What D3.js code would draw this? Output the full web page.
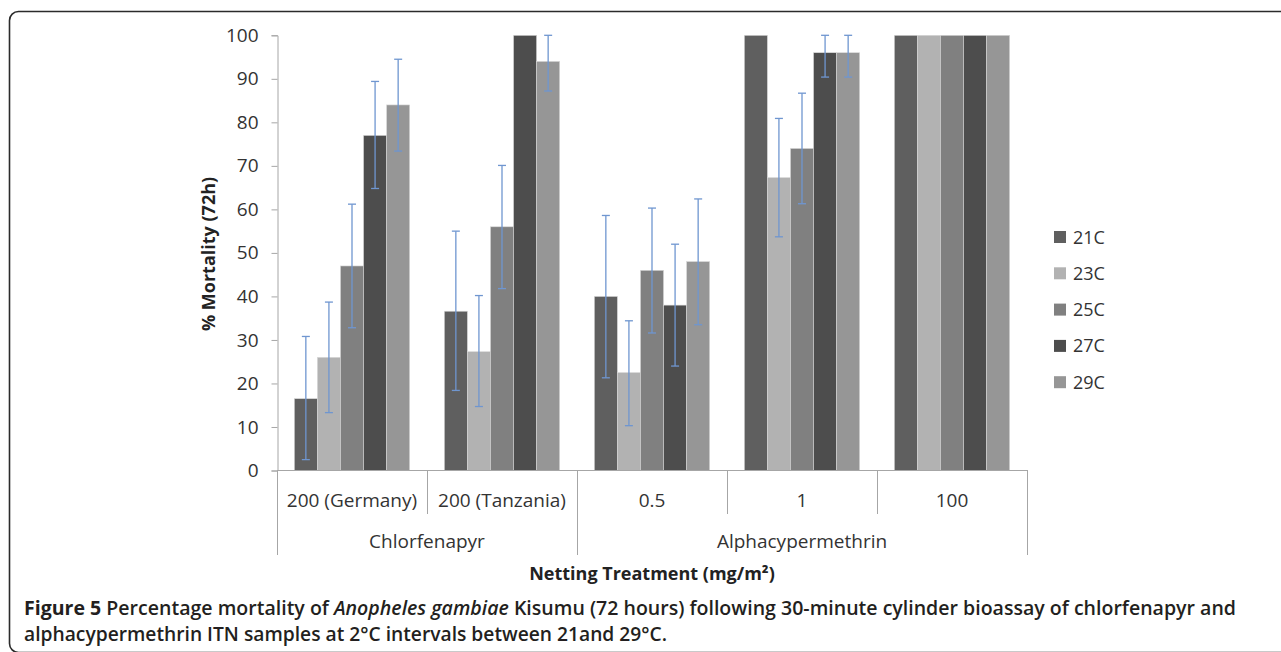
<!DOCTYPE html>
<html>
<head>
<meta charset="utf-8">
<script src="https://cdn.jsdelivr.net/npm/d3@7"></script>
<style>
  body { margin: 0; background: #fff; }
  svg { display: block; font-family: "Open Sans", sans-serif; }
</style>
</head>
<body>
<svg width="1281" height="652"></svg>
<script>
// data
var categories = ["200 (Germany)", "200 (Tanzania)", "0.5", "1", "100"];
var groupNames = ["Chlorfenapyr", "Alphacypermethrin"];
var groupSizes = [2, 3];
var series = ["21C", "23C", "25C", "27C", "29C"];
var colors = ["#5f5f5f", "#b2b2b2", "#808080", "#4d4d4d", "#969696"];
var yTicks = [0, 10, 20, 30, 40, 50, 60, 70, 80, 90, 100];

var values = [
    [16.5, 36.6, 40, 100, 100],   // 21C
    [26, 27.3, 22.5, 67.3, 100],  // 23C
    [47, 56, 46, 74, 100],        // 25C
    [77, 100, 38, 96, 100],       // 27C
    [84, 94, 48, 96, 100]         // 29C
];
var errLow = [
    [2.5, 18.4, 21.3, null, null],
    [13.3, 14.7, 10.3, 53.7, null],
    [32.8, 41.8, 31.6, 61.3, null],
    [64.8, null, 24, 90.4, null],
    [73.4, 87.2, 33.5, 90.4, null]
];
var errHigh = [
    [30.8, 55, 58.6, null, null],
    [38.7, 40.2, 34.4, 80.9, null],
    [61.2, 70.1, 60.3, 86.7, null],
    [89.4, null, 52, 100, null],
    [94.5, 100, 62.4, 100, null]
];

var svg = d3.select("svg");
var axisColor = "#a6a6a6", textColor = "#333";

// outer frame of the figure
svg.append("rect")
    .attr("x", 9.5).attr("y", 11.5)
    .attr("width", 1300).attr("height", 641)
    .attr("rx", 9).attr("ry", 9)
    .attr("fill", "none")
    .attr("stroke", "#2b2b2b")
    .attr("stroke-width", 1.6);

var x0 = d3.scaleBand().domain(categories).range([277, 1027]).paddingInner(0).paddingOuter(0);
var x1 = d3.scaleBand().domain(series).range([0, x0.bandwidth()]).paddingInner(0).paddingOuter(0.75);
var y = d3.scaleLinear().domain([0, 100]).range([470.5, 35.3]);

//y axis
var yAxis = svg.append("g")
    .attr("transform", "translate(277.5,0)")
    .call(d3.axisLeft(y).tickValues(yTicks).tickSize(6).tickPadding(13).tickFormat(d3.format("d")));
yAxis.selectAll("line,path").attr("stroke", axisColor);
yAxis.selectAll("text")
    .attr("font-size", "19px")
    .attr("font-family", "Open Sans, sans-serif")
    .attr("fill", textColor);

svg.append("text")
    .attr("transform", "translate(215,254) rotate(-90)")
    .attr("text-anchor", "middle")
    .attr("font-size", "18px")
    .attr("font-weight", "bold")
    .attr("fill", "#222")
    .text("% Mortality (72h)");

//draw bars
var g = svg.append("g");
series.forEach(function (s, si) {
    g.selectAll(".bar" + si)
        .data(categories)
        .enter().append("rect")
        .attr("x", function (c) { return x0(c) + x1(s); })
        .attr("y", function (c, ci) { return y(values[si][ci]); })
        .attr("width", x1.bandwidth())
        .attr("height", function (c, ci) { return y(0) - y(values[si][ci]); })
        .attr("fill", colors[si])
        .attr("stroke", "#d8d8d8")
        .attr("stroke-width", 0.6);
});

//error bars
var errColor = "#6f96d0";
series.forEach(function (s, si) {
    categories.forEach(function (c, ci) {
        if (errLow[si][ci] == null) return;
        var cx = x0(c) + x1(s) + x1.bandwidth() / 2;
        var eg = g.append("g").attr("stroke", errColor).attr("stroke-width", 1.3);
        eg.append("line").attr("x1", cx).attr("x2", cx)
            .attr("y1", y(errLow[si][ci])).attr("y2", y(errHigh[si][ci]));
        [errLow[si][ci], errHigh[si][ci]].forEach(function (v) {
            eg.append("line").attr("x1", cx - 4).attr("x2", cx + 4)
                .attr("y1", y(v)).attr("y2", y(v));
        });
    });
});

//x axis with two label levels
svg.append("line")
    .attr("x1", 277).attr("x2", 1027.5)
    .attr("y1", 470.5).attr("y2", 470.5)
    .attr("stroke", axisColor);

var boundaries = [0];
groupSizes.forEach(function (n, i) { boundaries.push(boundaries[i] + n); });

categories.forEach(function (c, ci) {
    var bx = Math.round(x0(c)) + 0.5;
    var isGroupEdge = boundaries.indexOf(ci) >= 0;
    svg.append("line")
        .attr("x1", bx).attr("x2", bx)
        .attr("y1", 470).attr("y2", isGroupEdge ? 555 : 514)
        .attr("stroke", axisColor);
    svg.append("text")
        .attr("x", x0(c) + x0.bandwidth() / 2)
        .attr("y", 507)
        .attr("text-anchor", "middle")
        .attr("font-size", "19px")
        .attr("fill", textColor)
        .text(c);
});
svg.append("line")
    .attr("x1", 1027.5).attr("x2", 1027.5)
    .attr("y1", 470).attr("y2", 555)
    .attr("stroke", axisColor);

groupNames.forEach(function (name, gi) {
    var start = x0(categories[boundaries[gi]]);
    var end = x0(categories[boundaries[gi + 1] - 1]) + x0.bandwidth();
    svg.append("text")
        .attr("x", (start + end) / 2)
        .attr("y", 548)
        .attr("text-anchor", "middle")
        .attr("font-size", "19px")
        .attr("fill", textColor)
        .text(name);
});

svg.append("text")
    .attr("x", 652)
    .attr("y", 580)
    .attr("text-anchor", "middle")
    .attr("font-size", "18px")
    .attr("font-weight", "bold")
    .attr("fill", "#222")
    .text("Netting Treatment (mg/m²)");

//legend
var legend = svg.append("g");
series.forEach(function (s, si) {
    var ly = 237 + si * 36.3;
    legend.append("rect")
        .attr("x", 1054).attr("y", ly - 6)
        .attr("width", 12).attr("height", 12)
        .attr("fill", colors[si]);
    legend.append("text")
        .attr("x", 1073).attr("y", ly + 6.5)
        .attr("font-size", "18px")
        .attr("fill", textColor)
        .text(s);
});

//caption, fitted to the widths of the original lines
var cap1 = svg.append("text")
    .attr("x", 24).attr("y", 615)
    .attr("font-size", "19px")
    .attr("fill", "#231f20")
    .attr("textLength", 1212)
    .attr("lengthAdjust", "spacingAndGlyphs");
cap1.append("tspan").attr("font-weight", 700).text("Figure 5 ");
cap1.append("tspan").attr("font-weight", 600).text("Percentage mortality of ");
cap1.append("tspan").attr("font-weight", 600).attr("font-style", "italic").text("Anopheles gambiae");
cap1.append("tspan").attr("font-weight", 600).text(" Kisumu (72 hours) following 30-minute cylinder bioassay of chlorfenapyr and");

svg.append("text")
    .attr("x", 24).attr("y", 641)
    .attr("font-size", "19px")
    .attr("font-weight", 600)
    .attr("fill", "#231f20")
    .attr("textLength", 643)
    .attr("lengthAdjust", "spacingAndGlyphs")
    .text("alphacypermethrin ITN samples at 2°C intervals between 21and 29°C.");
</script>
</body>
</html>
